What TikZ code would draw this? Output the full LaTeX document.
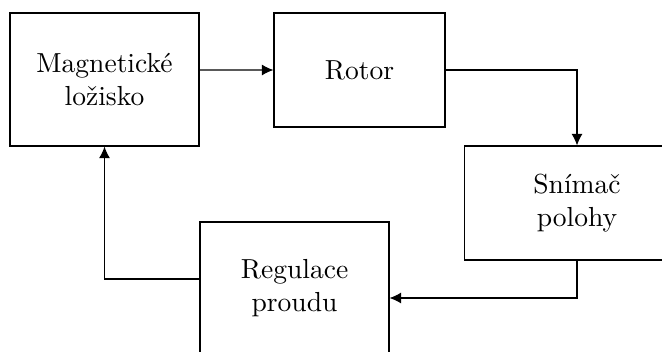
\documentclass[tikz,border=0pt]{standalone}
\usepackage{tikz}
\usetikzlibrary{arrows.meta}
\tikzset{>={Latex[length=4.2pt,width=4pt]}}
\tikzset{blok/.style={draw,align=center,inner sep=0pt}}

\begin{document}
\begin{tikzpicture}[x=0.363pt,y=-0.363pt]
    \clip (0,0) rectangle (662,351);
    \node[blok,minimum width=68.6pt,minimum height=48.3pt] (mag) at (104.5,79.5) {Magnetické\\ložisko};
    \node[blok,minimum width=62.1pt,minimum height=41.4pt] (rotor) at (359.5,70) {Rotor};
    \node[blok,minimum width=82pt,minimum height=41.4pt] (snimac) at (577,203) {Snímač\\polohy};
    \node[blok,minimum width=68.6pt,minimum height=48.3pt] (regulace) at (294.5,288.5) {Regulace\\proudu};
    \draw[->] ([yshift=3.45pt]mag.east) -- (rotor.west);
    \draw[->] (rotor.east) -| (snimac.north);
    \draw[->] (snimac.south) |- ([yshift=-3.45pt]regulace.east);
    \draw[->] ([yshift=3.45pt]regulace.west) -| (mag.south);
\end{tikzpicture}
\end{document}
